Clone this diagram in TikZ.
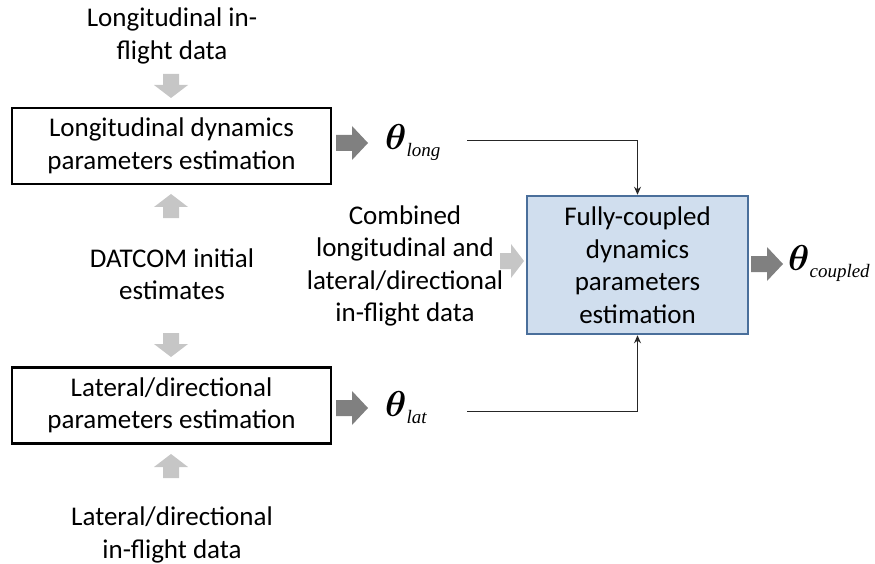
\RequirePackage{fix-cm}
\documentclass[tikz,border=0pt]{standalone}
\usepackage{amsmath}
\usepackage{fontspec}
\setmainfont{Carlito}
\newfontfamily\subfont{Liberation Serif}
\usetikzlibrary{arrows.meta}

\definecolor{lightarrow}{HTML}{C6C6C6}
\definecolor{darkarrow}{HTML}{808080}
\definecolor{boxfill}{HTML}{D0DEEE}
\definecolor{boxedge}{HTML}{4A6F9B}

\DeclareMathSizes{36}{36}{25}{18}
\newcommand{\paramset}[1]{\fontsize{36}{36}\selectfont$\boldsymbol{\theta}$\raisebox{-7pt}{\fontsize{19}{19}\selectfont\subfont\itshape #1}}

\tikzset{
  txt/.style={align=center, font=\fontsize{27}{32.5}\selectfont, inner sep=0pt},
  plainbox/.style={draw=black, line width=2.2pt, minimum width=319pt, minimum height=76pt,
    align=center, font=\fontsize{27}{32.5}\selectfont, inner sep=0pt},
  coupledbox/.style={draw=boxedge, fill=boxfill, line width=2.5pt, minimum width=221pt,
    minimum height=138pt, align=center, font=\fontsize{27}{32.5}\selectfont, inner sep=0pt},
  param/.style={inner sep=0pt, anchor=west},
  link/.style={draw=black!85, line width=0.9pt, -{Stealth[length=8pt,width=7pt]}},
  lightblk/.pic={\fill[lightarrow] (-12,-8) -- (-1,-8) -- (-1,-17) -- (12,0) -- (-1,17) -- (-1,8) -- (-12,8) -- cycle;},
  darkblk/.pic={\fill[darkarrow] (-16,-8) -- (0,-8) -- (0,-17) -- (16,0) -- (0,17) -- (0,8) -- (-16,8) -- cycle;}
}

\begin{document}
\begin{tikzpicture}[x=1pt,y=-1pt]
  \useasboundingbox (0,0) rectangle (875,564);

  % left column: inputs and the two decoupled estimators
  \node[txt] (lin) at (172,36) {Longitudinal in-\\flight data};
  \node[plainbox] (b1) at (171.5,146) {Longitudinal dynamics\\parameters estimation};
  \node[txt] (dat) at (172,274) {DATCOM initial\\estimates};
  \node[plainbox] (b2) at (171.5,405.5) {Lateral/directional\\parameters estimation};
  \node[txt] (lat) at (172,535) {Lateral/directional\\in-flight data};

  \pic[rotate=-90] at (171,86) {lightblk};
  \pic[rotate=90] at (171,206) {lightblk};
  \pic[rotate=-90] at (171,345) {lightblk};
  \pic[rotate=90] at (171,466) {lightblk};

  % estimated parameter sets
  \pic at (352,143) {darkblk};
  \node[param] (tlong) at (385,143) {\paramset{long}};
  \pic at (352,408) {darkblk};
  \node[param] (tlat) at (385,408) {\paramset{lat}};

  % fully-coupled estimator
  \node[coupledbox] (b3) at (637.5,265) {Fully-coupled\\dynamics\\parameters\\estimation};
  \node[txt] (comb) at (405,266) {Combined\\longitudinal and\\lateral/directional\\in-flight data};
  \pic at (512,261) {lightblk};
  \pic at (767,264) {darkblk};
  \node[param] (tcoup) at (788,264) {\paramset{coupled}};

  % connectors
  \coordinate (jl) at (467,140);
  \coordinate (jt) at (467,411);
  \draw[link] (jl) -| (b3.north);
  \draw[link] (jt) -| (b3.south);
\end{tikzpicture}
\end{document}
